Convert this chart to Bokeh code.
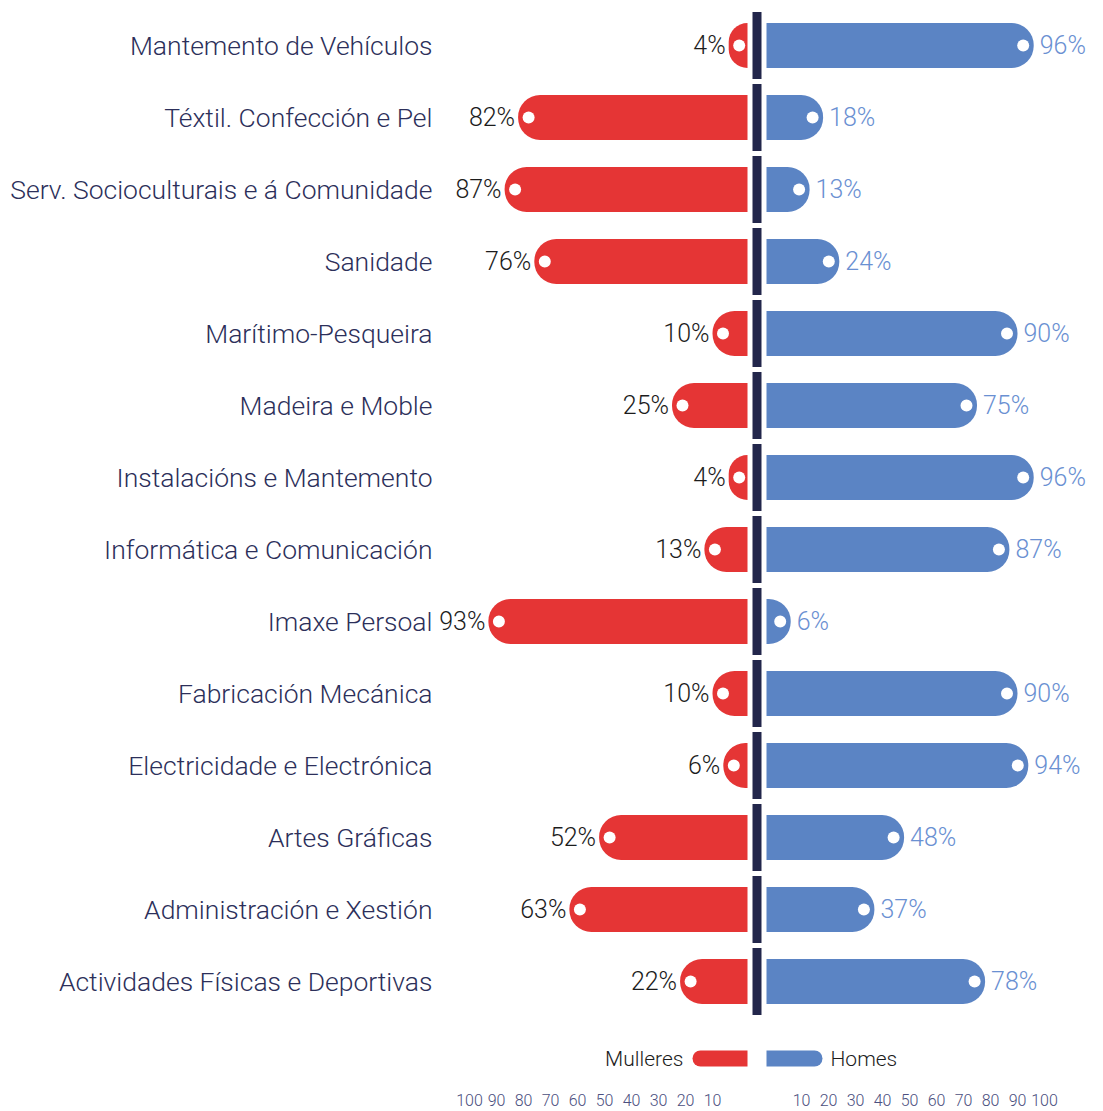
from bokeh.plotting import figure
from bokeh.models import Range1d, FixedTicker
from bokeh.core.properties import value
from bokeh.embed import file_html
from bokeh.resources import INLINE

# ---------------- data ----------------
categories = [
    "Mantemento de Vehículos",
    "Téxtil. Confección e Pel",
    "Serv. Socioculturais e á Comunidade",
    "Sanidade",
    "Marítimo-Pesqueira",
    "Madeira e Moble",
    "Instalacións e Mantemento",
    "Informática e Comunicación",
    "Imaxe Persoal",
    "Fabricación Mecánica",
    "Electricidade e Electrónica",
    "Artes Gráficas",
    "Administración e Xestión",
    "Actividades Físicas e Deportivas",
]
mulleres = [4, 82, 87, 76, 10, 25, 4, 13, 93, 10, 6, 52, 63, 22]
homes = [96, 18, 13, 24, 90, 75, 96, 87, 6, 90, 94, 48, 37, 78]
tick_values = [10, 20, 30, 40, 50, 60, 70, 80, 90, 100]
tick_labels = ["10", "20", "30", "40", "50", "60", "70", "80", "90", "100"]
series_names = ["Mulleres", "Homes"]

# ---------------- style / layout ----------------
RED = "#e53535"
BLUE = "#5b84c4"
BLUE_TXT = "#6a90d2"
NAVY = "#22264b"
CAT_TXT = "#2c2f5a"
DARK_TXT = "#1c1c1c"
AXIS_TXT = "#4c5080"
FONT = "Roboto Light"

PX = 2.7            # screen px per percentage point
CX = 756.5          # screen x of the centre line
FRAME_W, FRAME_H = 1100, 1082
ROW = 72.0          # px per row
G = 9.5 / PX        # gap from centre to bar start
CAP = 8.0 / PX      # small stub so tiny bars keep their rounded cap

x0 = (0 - CX) / PX
x1 = x0 + FRAME_W / PX
y1 = 45 / ROW
y0 = y1 - FRAME_H / ROW

n = len(categories)
ys = [-i for i in range(n)]
red_end = [-(G + CAP + v) for v in mulleres]
blue_end = [G + CAP + v for v in homes]

p = figure(
    frame_width=FRAME_W, frame_height=FRAME_H,
    x_range=Range1d(x0, x1), y_range=Range1d(y0, y1),
    output_backend="svg", toolbar_location=None,
    min_border=0, outline_line_color=None,
    background_fill_color="white", border_fill_color="white",
)

# bars
p.hbar(y=ys, left=red_end, right=-G, height=45 / ROW,
       fill_color=RED, line_color=None, border_radius=(22, 0, 0, 22))
p.hbar(y=ys, left=G, right=blue_end, height=45 / ROW,
       fill_color=BLUE, line_color=None, border_radius=(0, 22, 22, 0))

# centre segments
p.rect(x=0, y=ys, width=9, width_units="screen", height=67 / ROW,
       fill_color=NAVY, line_color=None)

# white dots near bar ends
p.scatter(x=[e + 10.5 / PX for e in red_end], y=ys, size=12, marker="circle",
          fill_color="white", line_color=None)
p.scatter(x=[e - 10.5 / PX for e in blue_end], y=ys, size=12, marker="circle",
          fill_color="white", line_color=None)

# value labels
p.text(x=[e - 3 / PX for e in red_end], y=ys, text=[f"{v}%" for v in mulleres],
       text_align="right", text_baseline="middle", text_font=value(FONT),
       text_font_size="25px", text_color=DARK_TXT)
p.text(x=[e + 6 / PX for e in blue_end], y=ys, text=[f"{v}%" for v in homes],
       text_align="left", text_baseline="middle", text_font=value(FONT),
       text_font_size="25px", text_color=BLUE_TXT)

# category labels
p.text(x=[(432 - CX) / PX] * n, y=ys, text=categories,
       text_align="right", text_baseline="middle", text_font=value(FONT),
       text_font_size="26.5px", text_color=CAT_TXT)

# legend (custom, rounded swatches)
yl = -(1058 - 45) / ROW
p.hbar(y=[yl], left=[(692 - CX) / PX], right=[-G], height=16 / ROW,
       fill_color=RED, line_color=None, border_radius=(8, 0, 0, 8))
p.hbar(y=[yl], left=[G], right=[(822 - CX) / PX], height=16 / ROW,
       fill_color=BLUE, line_color=None, border_radius=(0, 8, 8, 0))
p.text(x=[(683 - CX) / PX, (830 - CX) / PX], y=[yl, yl], text=series_names,
       text_align=["right", "left"], text_baseline="middle", text_font=value(FONT),
       text_font_size="21px", text_color=DARK_TXT)

# bottom axis: mirrored tick labels
tick_pos = [-(G + CAP + t) for t in tick_values] + [G + CAP + t for t in tick_values]
overrides = {}
for pos, lab in zip(tick_pos, tick_labels + tick_labels):
    overrides[pos] = lab
p.xaxis.ticker = FixedTicker(ticks=tick_pos)
p.xaxis.major_label_overrides = overrides
p.xaxis.axis_line_color = None
p.xaxis.major_tick_line_color = None
p.xaxis.minor_tick_line_color = None
p.xaxis.major_label_standoff = 5
p.xaxis.major_label_text_font = FONT
p.xaxis.major_label_text_font_size = "16px"
p.xaxis.major_label_text_color = AXIS_TXT
p.yaxis.visible = False
p.xgrid.grid_line_color = None
p.ygrid.grid_line_color = None

open("out.html", "w").write(file_html(p, INLINE))
